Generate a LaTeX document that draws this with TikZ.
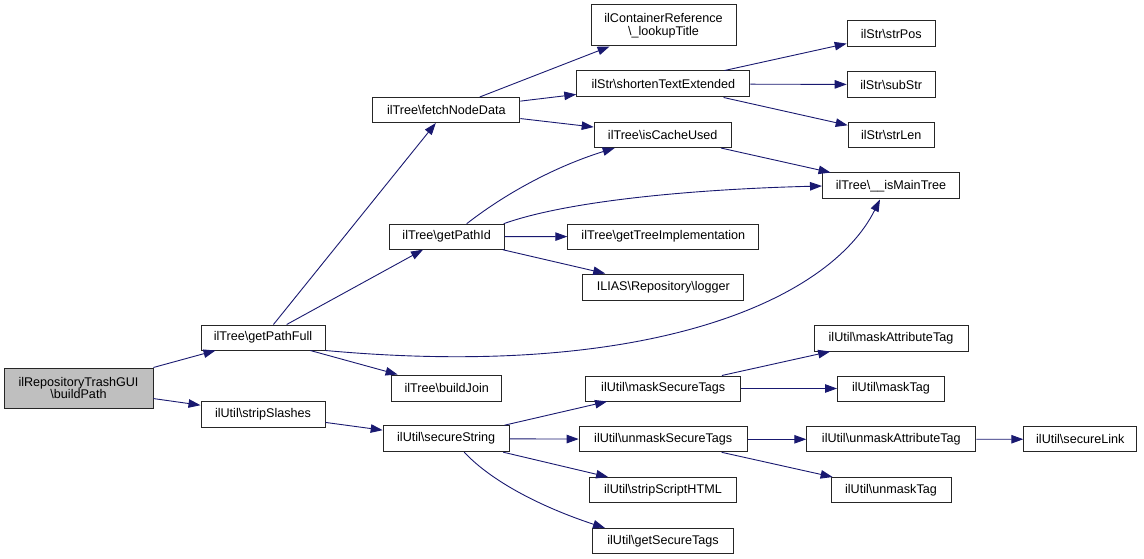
\documentclass[tikz,border=0pt]{standalone}
\usepackage{fontspec}
\setmainfont{Liberation Sans}
\usetikzlibrary{arrows.meta}
\definecolor{navy}{RGB}{25,25,112}
\definecolor{boxgray}{RGB}{191,191,191}
\tikzset{
  box/.style={draw=black!85, line width=1pt, fill=white, inner sep=0pt, align=center,
    font=\fontsize{12.6}{12.6}\selectfont},
  edge/.style={draw=navy, line width=0.9pt, -{Triangle[length=12pt,width=8.5pt]}},
}
\newcommand{\bs}{\textbackslash}
\begin{document}
\begin{tikzpicture}[x=1pt,y=-1pt]
\useasboundingbox (0,0) rectangle (1144,559);
% nodes
\node[box, fill=boxgray, minimum width=149pt, minimum height=40pt] (bp) at (78.5,388) {ilRepositoryTrashGUI\\\bs buildPath};
\node[box, minimum width=124pt, minimum height=25pt] (gpf) at (263,337.5) {ilTree\bs getPathFull};
\node[box, minimum width=124pt, minimum height=26pt] (ssl) at (263,414) {ilUtil\bs stripSlashes};
\node[box, minimum width=147pt, minimum height=25pt] (fnd) at (446.3,110) {ilTree\bs fetchNodeData};
\node[box, minimum width=115pt, minimum height=25pt] (gpi) at (446.7,236.7) {ilTree\bs getPathId};
\node[box, minimum width=110pt, minimum height=26pt] (bj) at (446.7,388) {ilTree\bs buildJoin};
\node[box, minimum width=126pt, minimum height=26pt] (ss) at (446.2,438.7) {ilUtil\bs secureString};
\node[box, minimum width=145pt, minimum height=41pt] (lt) at (663.5,25.5) {ilContainerReference\\\bs\_lookupTitle};
\node[box, minimum width=173pt, minimum height=26pt] (ste) at (663.3,84) {ilStr\bs shortenTextExtended};
\node[box, minimum width=137pt, minimum height=25pt] (icu) at (662.7,135) {ilTree\bs isCacheUsed};
\node[box, minimum width=191pt, minimum height=25pt] (gti) at (663.3,236.5) {ilTree\bs getTreeImplementation};
\node[box, minimum width=161pt, minimum height=26pt] (lg) at (663.3,287) {ILIAS\bs Repository\bs logger};
\node[box, minimum width=155pt, minimum height=25pt] (mst) at (663.2,388.5) {ilUtil\bs maskSecureTags};
\node[box, minimum width=168pt, minimum height=25pt] (ust) at (663.2,439.3) {ilUtil\bs unmaskSecureTags};
\node[box, minimum width=147pt, minimum height=25pt] (ssh) at (663,490) {ilUtil\bs stripScriptHTML};
\node[box, minimum width=141pt, minimum height=25pt] (gst) at (663,541) {ilUtil\bs getSecureTags};
\node[box, minimum width=88pt, minimum height=26pt] (sp) at (891.2,33.8) {ilStr\bs strPos};
\node[box, minimum width=88pt, minimum height=26pt] (sub) at (891.2,84.5) {ilStr\bs subStr};
\node[box, minimum width=86pt, minimum height=25pt] (sl) at (891.2,135) {ilStr\bs strLen};
\node[box, minimum width=137pt, minimum height=26pt] (imt) at (891,186) {ilTree\bs\_\_isMainTree};
\node[box, minimum width=154pt, minimum height=26pt] (mat) at (891,338) {ilUtil\bs maskAttributeTag};
\node[box, minimum width=107pt, minimum height=25pt] (mt) at (891,388.5) {ilUtil\bs maskTag};
\node[box, minimum width=169pt, minimum height=25pt] (uat) at (891.3,439.3) {ilUtil\bs unmaskAttributeTag};
\node[box, minimum width=120pt, minimum height=25pt] (ut) at (891,490) {ilUtil\bs unmaskTag};
\node[box, minimum width=113pt, minimum height=25pt] (sk) at (1080.3,439.2) {ilUtil\bs secureLink};
% edges
\draw[edge] (bp) -- (gpf);
\draw[edge] (bp) -- (ssl);
\draw[edge] (gpf) -- (fnd);
\draw[edge] (gpf) -- (gpi);
\draw[edge] (gpf) -- (bj);
\draw[edge] (gpf.south east) .. controls (650,380) and (830,300) .. ([xshift=-11pt]imt.south);
\draw[edge] (ssl) -- (ss);
\draw[edge] (fnd) -- (lt);
\draw[edge] (fnd) -- (ste);
\draw[edge] (fnd) -- (icu);
\draw[edge] (ste) -- (sp);
\draw[edge] (ste) -- (sub);
\draw[edge] (ste) -- (sl);
\draw[edge] (icu) -- (imt);
\draw[edge] ([xshift=20pt]gpi.north) .. controls (510,190) and (560,165) .. ([xshift=-48pt]icu.south);
\draw[edge] ([xshift=-1pt]gpi.north east) .. controls (570,200) and (700,189) .. (imt.west);
\draw[edge] (gpi) -- (gti);
\draw[edge] (gpi) -- (lg);
\draw[edge] (ss) -- (mst);
\draw[edge] (ss) -- (ust);
\draw[edge] (ss) -- (ssh);
\draw[edge] ([xshift=18pt]ss.south) .. controls (495,485) and (550,510) .. ([xshift=-58pt]gst.north);
\draw[edge] (mst) -- (mat);
\draw[edge] (mst) -- (mt);
\draw[edge] (ust) -- (uat);
\draw[edge] (ust) -- (ut);
\draw[edge] (uat) -- (sk);
\end{tikzpicture}
\end{document}
